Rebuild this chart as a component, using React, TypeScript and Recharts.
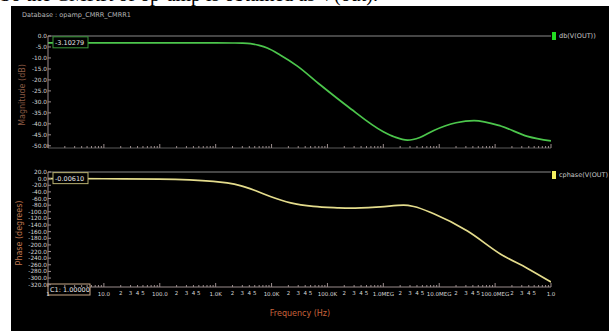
import { LineChart, Line, XAxis, YAxis, ReferenceLine, ReferenceDot, Legend } from "recharts";

// magnitude trace db(V(OUT))
const magFreq = [1, 10, 100, 1000, 2000, 3000, 4200, 6000, 8400, 14000, 29000, 74000, 228000, 1000000, 1600000, 2700000, 4500000, 8000000, 20000000, 42000000, 126000000, 380000000, 1000000000];
const magDb = [-3.1, -3.1, -3.1, -3.12, -3.18, -3.26, -3.5, -4.3, -5.5, -8.5, -13.7, -22.2, -32, -43.6, -46, -47.4, -46.2, -43, -39.5, -38.5, -41, -45.7, -47.8];

// phase trace cphase(V(OUT))
const phFreq = [1, 10, 100, 910, 1600, 2750, 5100, 9500, 22000, 56000, 150000, 257000, 890000, 2300000, 3500000, 8000000, 32000000, 126000000, 380000000, 1000000000];
const phDeg = [-0.006, -0.3, -1.5, -8, -13, -21, -36, -54, -73, -84, -88, -89, -85, -80, -84, -106, -158, -228, -271, -312];

const magTicks = [0, -5, -10, -15, -20, -25, -30, -35, -40, -45, -50];
const phTicks = [20, 0, -20, -40, -60, -80, -100, -120, -140, -160, -180, -200, -220, -240, -260, -280, -300, -320];
const decadeLabels = ["1", "10.0", "100.0", "1.0K", "10.0K", "100.0K", "1.0MEG", "10.0MEG", "100.0MEG", "1.0"];

const freqTicks: number[] = [];
for (let e = 0; e < 9; e++) {
  for (let m = 1; m <= 9; m++) freqTicks.push(m * Math.pow(10, e));
}
freqTicks.push(1e9);

const magData = magFreq.map((f, i) => ({ f, db: magDb[i] }));
const phData = phFreq.map((f, i) => ({ f, ph: phDeg[i] }));

const AXIS = "#9a8c8c";
const FONT = "'DejaVu Sans', sans-serif";

function FreqTick(props: any) {
  const { x, y, payload, showText } = props;
  const v = payload.value;
  const e = Math.floor(Math.log10(v) + 1e-9);
  const m = Math.round(v / Math.pow(10, e));
  const major = m === 1;
  return (
    <g>
      <line x1={x} x2={x} y1={y} y2={y - (major ? 4 : 2)} stroke={AXIS} strokeWidth={1} />
      {showText && major && (
        <text x={x} y={y + 9} textAnchor="middle" fontSize={5.5} fill="#d8d8d8" fontFamily={FONT}>
          {decadeLabels[e]}
        </text>
      )}
      {showText && e > 0 && m >= 2 && m <= 5 && (
        <text x={x} y={y + 8} textAnchor="middle" fontSize={5.5} fill="#d8d8d8" fontFamily={FONT}>
          {m}
        </text>
      )}
    </g>
  );
}

function ValTick(props: any) {
  const { x, y, payload } = props;
  return (
    <g>
      <line x1={x} x2={x + 3} y1={y} y2={y} stroke={AXIS} />
      <text x={x - 1} y={y + 2} textAnchor="end" fontSize={5.8} fill="#d8d8d8" fontFamily={FONT}>
        {payload.value.toFixed(1)}
      </text>
    </g>
  );
}

function cursorBox(text: string, border: string, dx: number, dy: number, w: number) {
  return (p: any) => {
    const vb = p.viewBox || {};
    const cx = vb.x + (vb.width || 0) / 2;
    const cy = vb.y + (vb.height || 0) / 2;
    return (
      <g>
        <rect x={cx + dx} y={cy + dy} width={w} height={11} fill="#000" stroke={border} strokeWidth={1} />
        <text x={cx + dx + 2} y={cy + dy + 8} fontSize={6.5} fill="#e0e0e0" fontFamily={FONT}>
          {text}
        </text>
      </g>
    );
  };
}

function legendBox(label: string, color: string) {
  return () => (
    <div style={{ display: "flex", alignItems: "center", fontFamily: FONT, fontSize: 6.5, color: "#c8c8c8", whiteSpace: "nowrap" }}>
      <span style={{ display: "inline-block", width: 4, height: 8, background: color, marginRight: 3 }} />
      {label}
    </div>
  );
}

export default function App() {
  return (
    <div style={{ position: "absolute", left: 0, top: 0, width: 609, height: 331, background: "#fff", overflow: "hidden" }}>
      <div style={{ position: "absolute", left: 0, top: -17, fontFamily: "'Liberation Serif', serif", fontSize: 20, color: "#000", whiteSpace: "nowrap" }}>
        So the CMRR of op-amp is obtained as V(out).
      </div>
      <div style={{ position: "absolute", left: 11, top: 6, width: 598, height: 325, background: "#000" }} />
      <div style={{ position: "absolute", left: 22, top: 11, fontFamily: FONT, fontSize: 6.5, color: "#b8b8b8" }}>
        Database : opamp_CMRR_CMRR1
      </div>

      <div style={{ position: "absolute", left: 0, top: 0 }}>
        <LineChart width={609} height={170} data={magData} margin={{ top: 36, right: 58, left: 0, bottom: 0 }}>
          <XAxis
            dataKey="f"
            type="number"
            scale="log"
            domain={[1, 1e9]}
            ticks={freqTicks}
            interval={0}
            allowDataOverflow
            height={14}
            tickSize={0}
            tickMargin={0}
            stroke="#5a5a5a"
            tick={<FreqTick showText={false} />}
          />
          <YAxis
            type="number"
            domain={[-51, 0]}
            ticks={magTicks}
            interval={0}
            allowDataOverflow
            width={48}
            tickSize={0}
            tickMargin={0}
            stroke={AXIS}
            tick={<ValTick />}
          />
          <ReferenceLine y={0} stroke="#8a8a8a" strokeWidth={1} />
          <Line type="monotone" dataKey="db" stroke="#4cc64c" strokeWidth={1.7} dot={false} isAnimationActive={false} />
          <ReferenceDot x={1} y={-3.10279} r={0} ifOverflow="visible" label={cursorBox("-3.10279", "#3a9a3a", 5, -6, 35)} />
          <Legend content={legendBox("db(V(OUT))", "#22dd22")} wrapperStyle={{ position: "absolute", left: 552, top: 32, width: 60 }} />
        </LineChart>
      </div>

      <div style={{ position: "absolute", left: 0, top: 160 }}>
        <LineChart width={609} height={171} data={phData} margin={{ top: 12, right: 58, left: 0, bottom: 0 }}>
          <XAxis
            dataKey="f"
            type="number"
            scale="log"
            domain={[1, 1e9]}
            ticks={freqTicks}
            interval={0}
            allowDataOverflow
            height={36}
            tickSize={0}
            tickMargin={0}
            stroke={AXIS}
            tick={<FreqTick showText />}
          />
          <YAxis
            type="number"
            domain={[-327, 20]}
            ticks={phTicks}
            interval={0}
            allowDataOverflow
            width={48}
            tickSize={0}
            tickMargin={0}
            stroke={AXIS}
            tick={<ValTick />}
          />
          <ReferenceLine y={20} stroke="#8a8a8a" strokeWidth={1} />
          <Line type="monotone" dataKey="ph" stroke="#e4dc8c" strokeWidth={1.7} dot={false} isAnimationActive={false} />
          <ReferenceDot x={1} y={-0.0061} r={0} ifOverflow="visible" label={cursorBox("-0.00610", "#b8b070", 5, -6, 35)} />
          <ReferenceDot x={1} y={-327} r={0} ifOverflow="visible" label={cursorBox("C1: 1.00000", "#c8a888", 0, -3, 42)} />
          <Legend content={legendBox("cphase(V(OUT)", "#f4f060")} wrapperStyle={{ position: "absolute", left: 552, top: 11, width: 60 }} />
        </LineChart>
      </div>

      <div style={{ position: "absolute", left: 22, top: 95, transform: "translate(-50%, -50%) rotate(-90deg)", fontFamily: FONT, fontSize: 8, color: "#8a5a44", whiteSpace: "nowrap" }}>
        Magnitude (dB)
      </div>
      <div style={{ position: "absolute", left: 19, top: 233, transform: "translate(-50%, -50%) rotate(-90deg)", fontFamily: FONT, fontSize: 8, color: "#c07850", whiteSpace: "nowrap" }}>
        Phase (degrees)
      </div>
      <div style={{ position: "absolute", left: 300, top: 313, transform: "translate(-50%, -50%)", fontFamily: FONT, fontSize: 8, color: "#c8643c", whiteSpace: "nowrap" }}>
        Frequency (Hz)
      </div>
    </div>
  );
}
